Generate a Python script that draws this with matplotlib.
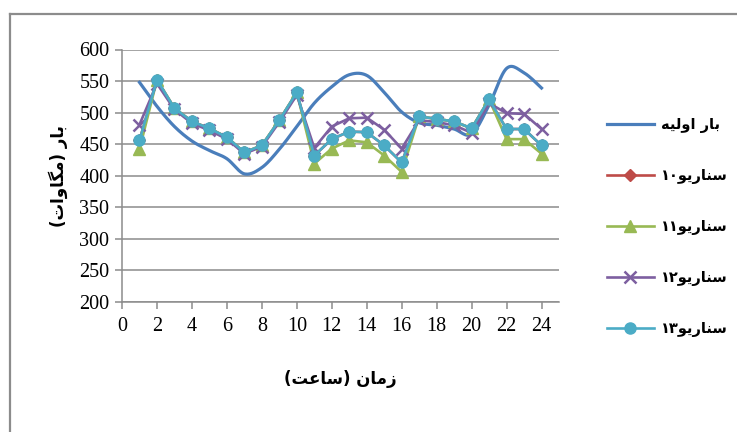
import numpy as np
import matplotlib
matplotlib.use('Agg')
import matplotlib.pyplot as plt
from matplotlib.lines import Line2D

plt.rcParams['font.family'] = ['Liberation Serif', 'DejaVu Sans']

hours = list(range(1, 25))
base_load = [548, 510, 478, 455, 440, 427, 403, 413, 442, 478, 515, 541,
             560, 559, 532, 501, 484, 480, 474, 466, 512, 570, 563, 539]
scen10 = [456, 552, 507, 486, 475, 461, 437, 448, 488, 532, 432, 458,
          470, 469, 448, 421, 494, 490, 486, 475, 521, 474, 474, 448]
scen11 = [442, 552, 507, 486, 475, 461, 437, 448, 488, 532, 419, 443,
          456, 453, 432, 406, 494, 490, 486, 475, 521, 458, 458, 435]
scen12 = [481, 546, 505, 483, 472, 458, 435, 446, 485, 528, 444, 478,
          491, 492, 473, 443, 488, 485, 480, 468, 515, 499, 498, 474]
scen13 = [456, 552, 507, 486, 475, 461, 437, 448, 488, 532, 432, 458,
          470, 469, 448, 421, 494, 490, 486, 475, 521, 474, 474, 448]

labels = ['بار اولیه', 'سناریو۱۰', 'سناریو۱۱', 'سناریو۱۲', 'سناریو۱۳']
xlabel = 'زمان (ساعت)'
ylabel = 'بار (مگاوات)'

# contextual forms: isolated, final, initial, medial (None = no left join)
FORMS = {
    'ب': ('\uFE8F', '\uFE90', '\uFE91', '\uFE92'),
    'ا': ('\uFE8D', '\uFE8E', None, None),
    'ر': ('\uFEAD', '\uFEAE', None, None),
    'ز': ('\uFEAF', '\uFEB0', None, None),
    'و': ('\uFEED', '\uFEEE', None, None),
    'ل': ('\uFEDD', '\uFEDE', '\uFEDF', '\uFEE0'),
    'ی': ('\uFBFC', '\uFBFD', '\uFBFE', '\uFBFF'),
    'ه': ('\uFEE9', '\uFEEA', '\uFEEB', '\uFEEC'),
    'س': ('\uFEB1', '\uFEB2', '\uFEB3', '\uFEB4'),
    'ن': ('\uFEE5', '\uFEE6', '\uFEE7', '\uFEE8'),
    'م': ('\uFEE1', '\uFEE2', '\uFEE3', '\uFEE4'),
    'گ': ('\uFB92', '\uFB93', '\uFB94', '\uFB95'),
    'ت': ('\uFE95', '\uFE96', '\uFE97', '\uFE98'),
    'ع': ('\uFEC9', '\uFECA', '\uFECB', '\uFECC'),
}


def fa(text):
    out = []
    for i, c in enumerate(text):
        if c not in FORMS:
            out.append(c)
            continue
        prev = text[i - 1] if i > 0 else None
        nxt = text[i + 1] if i + 1 < len(text) else None
        jp = prev in FORMS and FORMS[prev][2] is not None
        jn = nxt in FORMS and FORMS[c][2] is not None
        iso, fin, ini, med = FORMS[c]
        if jp and jn:
            out.append(med)
        elif jp:
            out.append(fin)
        elif jn:
            out.append(ini)
        else:
            out.append(iso)
    # visual order
    s = ''.join(reversed(out))
    s = s.translate(str.maketrans('()', ')('))
    res, run = '', ''
    for c in s:
        if '\u06F0' <= c <= '\u06F9':
            run += c
        else:
            res += run[::-1] + c
            run = ''
    return res + run[::-1]


def smooth(x, y, n=16):
    x, y = np.asarray(x, float), np.asarray(y, float)
    xs, ys = [], []
    for i in range(len(x) - 1):
        i0, i3 = max(i - 1, 0), min(i + 2, len(x) - 1)
        t = np.linspace(0, 1, n, endpoint=False)
        for arr, acc in ((x, xs), (y, ys)):
            p0, p1, p2, p3 = arr[i0], arr[i], arr[i + 1], arr[i3]
            acc.extend(0.5 * (2 * p1 + (-p0 + p2) * t
                              + (2 * p0 - 5 * p1 + 4 * p2 - p3) * t ** 2
                              + (-p0 + 3 * p1 - 3 * p2 + p3) * t ** 3))
    xs.append(x[-1])
    ys.append(y[-1])
    return xs, ys


fig = plt.figure(figsize=(7.37, 4.32), dpi=100)
ax = fig.add_axes([122 / 737, 130 / 432, 437 / 737, 252.5 / 432])

sx, sy = smooth(hours, base_load)
ax.plot(sx, sy, color='#4A7EBB', lw=2.3, label=fa(labels[0]))
ax.plot(hours, scen10, color='#BE4B48', lw=1.9, marker='D', ms=6, label=fa(labels[1]))
ax.plot(hours, scen11, color='#98B954', lw=1.9, marker='^', ms=8, label=fa(labels[2]))
ax.plot(hours, scen12, color='#7D5FA0', lw=1.9, marker='x', ms=8, mew=1.8, label=fa(labels[3]))
ax.plot(hours, scen13, color='#4BACC6', lw=1.9, marker='o', ms=8, label=fa(labels[4]))

ax.set_xlim(0, 25)
ax.set_ylim(200, 600)
ax.set_xticks(range(0, 25, 2))
ax.set_yticks(range(200, 601, 50))
ax.yaxis.grid(True, color='#8C8C8C', lw=1.1)
ax.set_axisbelow(True)
for s in ['top', 'right']:
    ax.spines[s].set_visible(False)
for s in ['left', 'bottom']:
    ax.spines[s].set_color('#8C8C8C')
    ax.spines[s].set_linewidth(1.1)
ax.tick_params(colors='#8C8C8C', labelcolor='black', labelsize=14.5,
               length=5, width=1.1)
ax.tick_params(axis='y', pad=4)
ax.tick_params(axis='x', pad=6)

ax.set_xlabel(fa(xlabel), fontsize=12, fontweight='bold', family='DejaVu Sans', labelpad=24)
ax.set_ylabel(fa(ylabel), fontsize=12, fontweight='bold', family='DejaVu Sans', labelpad=8)

leg = ax.legend(loc='upper left', bbox_to_anchor=(594 / 737, 1 - 104 / 432),
                bbox_transform=fig.transFigure, frameon=False, handlelength=3.2,
                labelspacing=2.4, handletextpad=0.5,
                prop={'family': 'DejaVu Sans', 'weight': 'bold', 'size': 10.5})

# chart area border
fig.add_artist(Line2D([10 / 737, 10 / 737], [0, 1 - 14 / 432], color='#8C8C8C', lw=1.6))
fig.add_artist(Line2D([10 / 737, 1], [1 - 14 / 432, 1 - 14 / 432], color='#8C8C8C', lw=1.6))

plt.savefig('out.png', dpi=100)
